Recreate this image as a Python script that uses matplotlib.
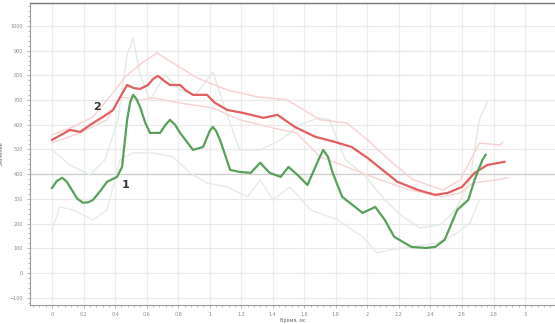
import numpy as np
import matplotlib
matplotlib.use("Agg")
import matplotlib.pyplot as plt
from matplotlib.ticker import MultipleLocator

# curve 2 (red) and its faint bounds
red_x = [0, 0.06, 0.114, 0.178, 0.26, 0.324, 0.387, 0.43, 0.476, 0.52, 0.558, 0.609, 0.64, 0.672, 0.71,
         0.748, 0.812, 0.85, 0.894, 0.983, 1.03, 1.11, 1.21, 1.34, 1.43, 1.54, 1.67, 1.79, 1.90, 2.0,
         2.1, 2.19, 2.32, 2.43, 2.51, 2.60, 2.68, 2.76, 2.87]
red_y = [539, 560, 579, 571, 607, 632, 660, 710, 761, 748, 745, 761, 785, 798, 778,
         761, 761, 738, 721, 721, 690, 660, 648, 628, 640, 591, 551, 531, 510, 466,
         415, 369, 336, 316, 324, 348, 405, 437, 450]

pink_hi_x = [0, 0.133, 0.26, 0.412, 0.463, 0.57, 0.666, 0.767, 0.919, 1.11, 1.30, 1.49, 1.70, 1.87, 2.0,
             2.16, 2.29, 2.48, 2.59, 2.71, 2.84, 2.86]
pink_hi_y = [559, 591, 632, 749, 794, 850, 891, 850, 790, 741, 713, 701, 620, 607, 539,
             445, 377, 336, 377, 526, 518, 530]

pink_lo_x = [0, 0.178, 0.349, 0.431, 0.558, 0.64, 0.812, 1.02, 1.19, 1.40, 1.55, 1.70, 1.87, 2.08,
             2.27, 2.48, 2.59, 2.67, 2.82, 2.89]
pink_lo_y = [526, 567, 620, 713, 700, 709, 688, 668, 620, 587, 567, 470, 429, 377,
             336, 308, 324, 364, 377, 385]

# curve 1 (green) and its faint bounds
green_x = [0, 0.03, 0.063, 0.09, 0.114, 0.16, 0.197, 0.23, 0.26, 0.31, 0.349, 0.412, 0.444, 0.476, 0.495,
           0.514, 0.535, 0.558, 0.59, 0.621, 0.685, 0.72, 0.748, 0.78, 0.812, 0.894, 0.958, 1.0, 1.02,
           1.04, 1.065, 1.13, 1.19, 1.26, 1.32, 1.38, 1.45, 1.50, 1.56, 1.62, 1.69, 1.72, 1.75, 1.78,
           1.84, 1.97, 2.05, 2.11, 2.17, 2.28, 2.37, 2.43, 2.49, 2.57, 2.64, 2.68, 2.73, 2.75]
green_y = [344, 372, 385, 372, 348, 300, 284, 286, 296, 335, 369, 389, 429, 620, 690,
           721, 705, 672, 610, 567, 567, 600, 620, 600, 567, 498, 510, 575, 591,
           575, 539, 417, 409, 405, 446, 405, 389, 429, 395, 356, 458, 498, 470, 405,
           308, 243, 267, 215, 146, 105, 101, 105, 134, 255, 296, 377, 458, 478]

gray_hi_x = [0, 0.114, 0.241, 0.336, 0.418, 0.476, 0.514, 0.558, 0.621, 0.717, 0.812, 0.907, 0.983, 1.02,
             1.10, 1.19, 1.32, 1.45, 1.57, 1.69, 1.76, 1.86, 1.98, 2.11, 2.21, 2.33, 2.46, 2.56,
             2.65, 2.71, 2.76]
gray_hi_y = [498, 437, 397, 458, 620, 883, 952, 802, 700, 802, 741, 721, 781, 814,
             660, 498, 498, 539, 599, 628, 620, 458, 397, 296, 235, 182, 194, 255,
             377, 620, 692]

gray_lo_x = [0, 0.05, 0.133, 0.26, 0.349, 0.431, 0.514, 0.64, 0.767, 0.875, 0.983, 1.11, 1.24, 1.32,
             1.40, 1.51, 1.64, 1.81, 1.97, 2.06, 2.14, 2.27, 2.44, 2.57, 2.65, 2.71]
gray_lo_y = [174, 267, 255, 215, 255, 458, 486, 486, 470, 405, 364, 348, 308, 377,
             296, 348, 255, 215, 146, 81, 93, 105, 121, 162, 202, 296]

x_ticks = [0, 0.2, 0.4, 0.6, 0.8, 1, 1.2, 1.4, 1.6, 1.8, 2, 2.2, 2.4, 2.6, 2.8, 3]
x_labels = ["0", "0.2", "0.4", "0.6", "0.8", "1", "1.2", "1.4", "1.6", "1.8", "2",
            "2.2", "2.4", "2.6", "2.8", "3"]
y_ticks = [-100, 0, 100, 200, 300, 400, 500, 600, 700, 800, 900, 1000]

fig = plt.figure(figsize=(5.55, 3.24), dpi=100)
ax = fig.add_axes([30 / 555, 19 / 324, 1 - 30 / 555, (305 - 3) / 324])

ax.set_xlim(-0.14, 3.19)
ax.set_ylim(-130, 1093)

# grid
for xt in x_ticks:
    ax.axvline(xt, color="#ededed", lw=0.9, zorder=0)
for yt in y_ticks:
    ax.axhline(yt, color="#cccccc" if yt == 400 else "#e9e9e9", lw=0.9, zorder=0)

# faint bounds
ax.plot(gray_hi_x, gray_hi_y, color="#e1ece0", lw=1.0, zorder=1)
ax.plot(gray_lo_x, gray_lo_y, color="#e6ebe5", lw=1.0, zorder=1)
ax.plot(pink_hi_x, pink_hi_y, color="#f8d0d0", lw=1.0, zorder=1)
ax.plot(pink_lo_x, pink_lo_y, color="#f7d3d3", lw=1.0, zorder=1)

# main curves
ax.plot(red_x, red_y, color="#e25e5e", lw=1.6, zorder=3, solid_joinstyle="round")
ax.plot(green_x, green_y, color="#56a05a", lw=1.6, zorder=3, solid_joinstyle="round")

ax.text(0.285, 672, "2", fontsize=8, fontweight="bold", color="#333333", ha="center", va="center")
ax.text(0.464, 356, "1", fontsize=8, fontweight="bold", color="#333333", ha="center", va="center")

ax.set_xticks(x_ticks)
ax.set_xticklabels(x_labels)
ax.set_yticks(y_ticks)
ax.xaxis.set_minor_locator(MultipleLocator(0.04))
ax.yaxis.set_minor_locator(MultipleLocator(20))
ax.tick_params(which="both", labelsize=3.5, labelcolor="#888888", color="#999999",
               length=2, width=0.5, pad=3)
ax.tick_params(which="minor", length=1.2)

for side in ["left", "bottom"]:
    ax.spines[side].set_color("#999999")
    ax.spines[side].set_linewidth(0.8)
ax.spines["top"].set_color("#777777")
ax.spines["top"].set_linewidth(1.0)
ax.spines["right"].set_visible(False)

ax.set_xlabel("Время, мс", fontsize=3.5, color="#666666", labelpad=1)
ax.set_ylabel("Значение", fontsize=3.5, color="#666666", labelpad=4)

fig.savefig("out.png", dpi=100, facecolor="white")
